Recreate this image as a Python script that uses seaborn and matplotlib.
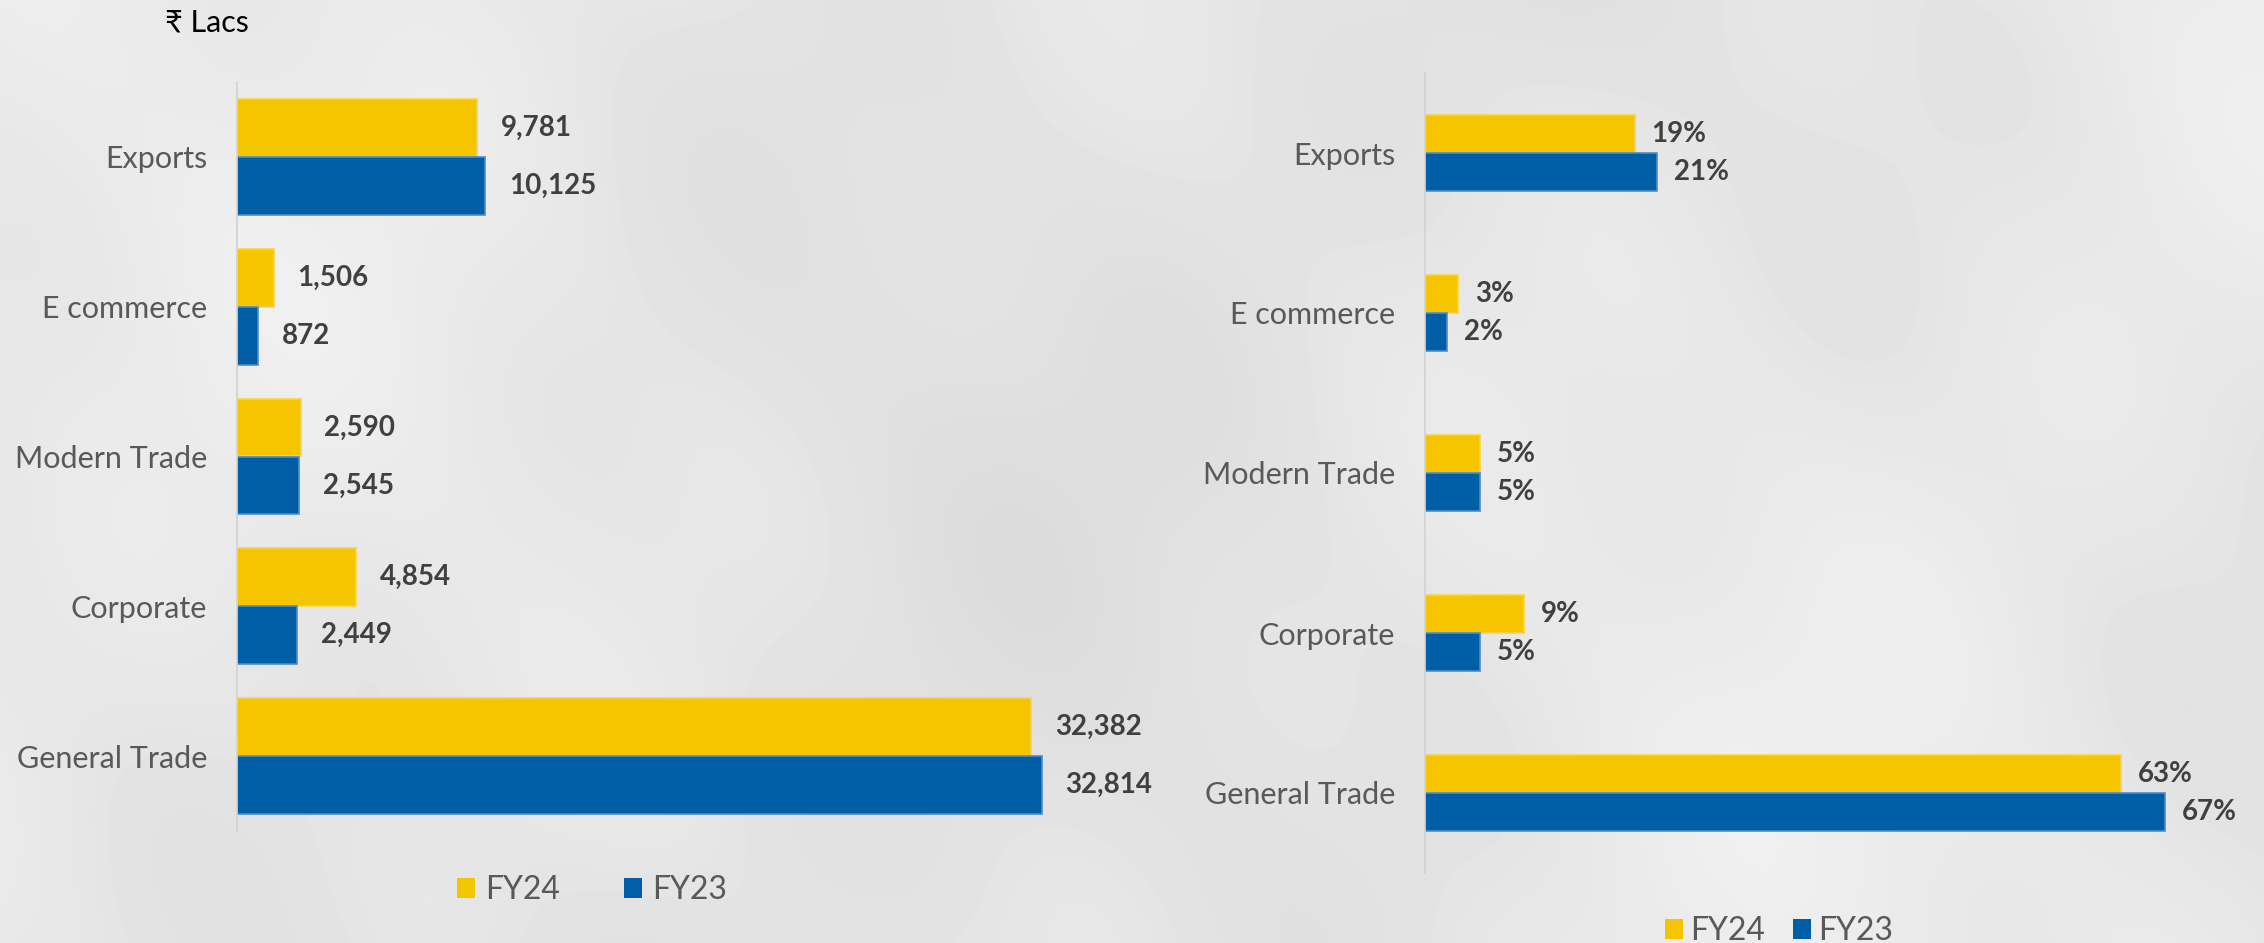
import numpy as np
import pandas as pd
import seaborn as sns
import matplotlib.pyplot as plt
from matplotlib.patches import Patch

# Sales by channel (₹ Lacs) and channel share of sales (%)
channels = ["Exports", "E commerce", "Modern Trade", "Corporate", "General Trade"]
years = ["FY24", "FY23"]
sales_fy24 = [9781, 1506, 2590, 4854, 32382]
sales_fy23 = [10125, 872, 2545, 2449, 32814]
share_fy24 = [19, 3, 5, 9, 63]
share_fy23 = [21, 2, 5, 5, 67]

palette = {"FY24": "#F5C600", "FY23": "#005EA6"}
edges = {"FY24": "#F7D34A", "FY23": "#4E8CC8"}
label_grey = "#595959"
value_grey = "#404040"

sns.set_theme(style="white")
plt.rcParams["font.family"] = ["Lato", "DejaVu Sans"]

W, H = 2264, 943
fig = plt.figure(figsize=(W / 100, H / 100), dpi=100)
fig.patch.set_facecolor("#e6e6e6")

# soft stone-like backdrop
bg = fig.add_axes([0, 0, 1, 1], zorder=-10)
yy, xx = np.mgrid[0:1:240j, 0:2.4:576j]
tex = (0.45 * np.sin(3.1 * xx + 1.7 * yy + 0.4)
       + 0.35 * np.sin(5.3 * xx - 4.1 * yy + 1.1)
       + 0.25 * np.sin(9.7 * xx + 7.3 * yy + 2.3)
       + 0.15 * np.sin(17.0 * xx - 13.0 * yy + 0.7))
tex = 0.9 + 0.04 * tex / np.abs(tex).max()
bg.imshow(tex, cmap="gray", vmin=0, vmax=1, aspect="auto",
          extent=[0, 1, 0, 1], interpolation="bicubic")
bg.set_axis_off()


def long_frame(v24, v23):
    return pd.DataFrame({
        "channel": channels * 2,
        "year": ["FY24"] * len(channels) + ["FY23"] * len(channels),
        "value": list(v24) + list(v23),
    })


def draw_panel(ax, df, width, xmax, fmt, pad):
    sns.barplot(data=df, y="channel", x="value", hue="year", order=channels,
                hue_order=years, palette=palette, saturation=1, width=width,
                orient="h", errorbar=None, legend=False, ax=ax)
    for cont, yr in zip(ax.containers, years):
        for bar in cont:
            bar.set_edgecolor(edges[yr])
            bar.set_linewidth(1.2)
        ax.bar_label(cont, fmt=fmt, padding=pad, fontsize=20,
                     fontweight="bold", color=value_grey)
    ax.set_xlim(0, xmax)
    ax.set_ylim(4.5, -0.5)
    ax.set_facecolor("none")
    ax.set_xticks([])
    ax.set_xlabel("")
    ax.set_ylabel("")
    ax.tick_params(axis="y", length=0, pad=21.6, labelsize=22,
                   labelcolor=label_grey)
    for side in ("top", "right", "bottom"):
        ax.spines[side].set_visible(False)
    ax.spines["left"].set_color("#d2d2d2")
    ax.spines["left"].set_linewidth(1.2)


# left panel: sales in ₹ Lacs
ax1 = fig.add_axes([237 / W, (H - 831) / H, 883 / W, 749 / H])
draw_panel(ax1, long_frame(sales_fy24, sales_fy23), 0.774, 36000, "{:,.0f}", 17)

# right panel: share of sales
ax2 = fig.add_axes([1425 / W, (H - 873) / H, 795 / W, 800 / H])
draw_panel(ax2, long_frame(share_fy24, share_fy23), 0.48, 795 / 11.05, "{:.0f}%", 12)

fig.text(165 / W, 1 - 22 / H, "₹ Lacs", fontsize=22, color="black",
         va="center", ha="left", family=["Lato", "DejaVu Sans"])

handles = [Patch(facecolor=palette[y], edgecolor="none") for y in years]
fig.legend(handles, years, loc="center", bbox_to_anchor=(592 / W, 1 - 890 / H),
           ncol=2, frameon=False, fontsize=23, labelcolor=label_grey,
           handlelength=0.55, handleheight=0.6, handletextpad=0.32,
           columnspacing=2.0)
fig.legend(handles, years, loc="center", bbox_to_anchor=(1779 / W, 1 - 931 / H),
           ncol=2, frameon=False, fontsize=23, labelcolor=label_grey,
           handlelength=0.55, handleheight=0.6, handletextpad=0.22,
           columnspacing=0.9)

fig.savefig("out.png", dpi=100)
